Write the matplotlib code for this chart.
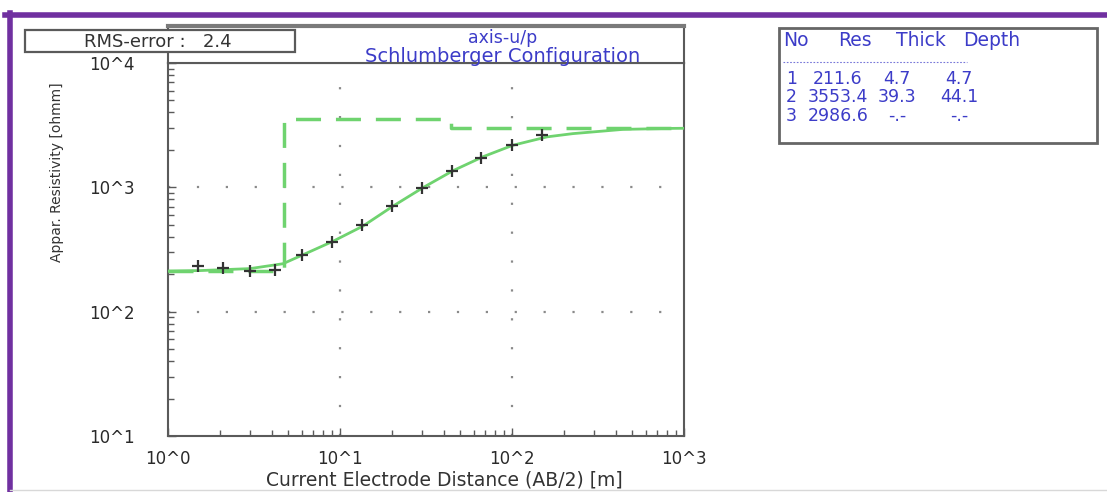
import matplotlib
matplotlib.use("Agg")
import matplotlib.pyplot as plt
from matplotlib.patches import Rectangle
from matplotlib.lines import Line2D
from matplotlib.ticker import FixedLocator, NullFormatter

plt.rcParams['font.family'] = ['DejaVu Sans']

# measured apparent resistivity (AB/2 in m, rho_a in ohmm)
ab2 = [1.5, 2.1, 3.0, 4.2, 6.0, 9.0, 13.5, 20, 30, 45, 66, 100, 150]
rho_meas = [232, 225, 213, 216, 286, 363, 497, 705, 995, 1361, 1730, 2208, 2655]

# fitted curve
fit_x = [1.0, 1.53, 3.0, 4.66, 6.1, 9.1, 13.6, 20.3, 30.4, 45.4, 67.8, 101, 160, 226, 442, 863, 1000]
fit_rho = [212, 214, 222, 243, 287, 368, 488, 705, 995, 1361, 1762, 2178, 2547, 2704, 2925, 2980, 2985]

# layer model
layer_no = ['1', '2', '3']
layer_res = [211.6, 3553.4, 2986.6]
layer_thick = ['4.7', '39.3', '-.-']
layer_depth = ['4.7', '44.1', '-.-']
depths = [4.7, 44.1]

rms_error = 2.4
x_ticks = [1, 10, 100, 1000]
x_ticklabels = ['10^0', '10^1', '10^2', '10^3']
y_ticks = [10, 100, 1000, 10000]
y_ticklabels = ['10^1', '10^2', '10^3', '10^4']

W, H = 1107, 492
green = '#6fd36f'
blue = '#3c3cc8'
gray = '#5a5a5a'


def fx(px):
    return px / W


def fy(py):
    return 1 - py / H


def minor_ticks(lo, hi):
    out = []
    d = lo
    while d < hi:
        out += [m * d for m in range(2, 10)]
        d *= 10
    return out


fig = plt.figure(figsize=(W / 100, H / 100), dpi=100)

ax = fig.add_axes([fx(168), fy(436), fx(684) - fx(168), fy(63) - fy(436)])
ax.set_xscale('log')
ax.set_yscale('log')
ax.set_xlim(1, 1000)
ax.set_ylim(10, 10000)

# model step line
step_x = [1] + depths + [1000]
step_y = layer_res + [layer_res[-1]]
ax.step(step_x, step_y, where='post', color=green, lw=2.5, ls=(0, (7.2, 4.3)), zorder=3)
ax.plot(fit_x, fit_rho, color=green, lw=2, zorder=4)
ax.plot(ab2, rho_meas, ls='none', marker='+', ms=9, mew=1.6, color='#333333', zorder=5)

ax.xaxis.set_major_locator(FixedLocator(x_ticks))
ax.set_xticklabels(x_ticklabels)
ax.yaxis.set_major_locator(FixedLocator(y_ticks))
ax.set_yticklabels(y_ticklabels)
ax.xaxis.set_minor_locator(FixedLocator(minor_ticks(1, 1000)))
ax.yaxis.set_minor_locator(FixedLocator(minor_ticks(10, 10000)))
ax.xaxis.set_minor_formatter(NullFormatter())
ax.yaxis.set_minor_formatter(NullFormatter())
ax.tick_params(which='major', direction='in', length=6, width=1, color=gray,
               labelsize=12, labelcolor='#2a2a2a')
ax.tick_params(which='minor', direction='in', length=4, width=1, color=gray)
ax.tick_params(axis='x', which='major', pad=10)
ax.tick_params(axis='y', which='major', pad=24)

for v in x_ticks[1:-1]:
    ax.axvline(v, color='#8a8a8a', lw=1.6, ls=(0, (1, 12)), zorder=1)
for v in y_ticks[1:-1]:
    ax.axhline(v, color='#8a8a8a', lw=1.6, ls=(0, (1, 12)), zorder=1)

for s in ax.spines.values():
    s.set_color(gray)
    s.set_linewidth(1.5)

fig.text(fx(57), fy(172), 'Appar. Resistivity [ohmm]', rotation=90,
         ha='center', va='center', fontsize=10, color='#333333')
fig.text(fx(444), fy(480), 'Current Electrode Distance (AB/2) [m]',
         ha='center', va='center', fontsize=13.5, color='#333333')

# title strip above the plot
ax_t = fig.add_axes([fx(168), fy(63), fx(684) - fx(168), fy(26) - fy(63)])
ax_t.set_xticks([])
ax_t.set_yticks([])
for s in ax_t.spines.values():
    s.set_color(gray)
    s.set_linewidth(1.5)
ax_t.spines['top'].set_linewidth(3)
ax_t.spines['top'].set_color('#7a7a7a')
fig.text(fx(503), fy(38), 'axis-u/p', ha='center', va='center', fontsize=12.5, color=blue)
fig.text(fx(503), fy(56), 'Schlumberger Configuration', ha='center', va='center',
         fontsize=14, color=blue)

# RMS box
fig.add_artist(Rectangle((fx(25), fy(52)), fx(295) - fx(25), fy(30) - fy(52),
                         transform=fig.transFigure, facecolor='white',
                         edgecolor=gray, lw=1.6, zorder=10))
fig.text(fx(158), fy(42), 'RMS-error :   %.1f' % rms_error, ha='center', va='center',
         fontsize=13, color='#333333', zorder=11)

# layer table
fig.add_artist(Rectangle((fx(779), fy(143)), fx(1097) - fx(779), fy(28) - fy(143),
                         transform=fig.transFigure, facecolor='white',
                         edgecolor='#666666', lw=2, zorder=10))
hdr_x = [783, 838, 896, 963]
for txt, x in zip(['No', 'Res', 'Thick', 'Depth'], hdr_x):
    fig.text(fx(x), fy(41), txt, ha='left', va='center', fontsize=13.5, color=blue, zorder=11)
fig.add_artist(Line2D([fx(783), fx(967)], [fy(62), fy(62)], transform=fig.transFigure,
                      color=blue, lw=0.8, ls=(0, (1.5, 1.5)), alpha=0.7, zorder=11))
row_y = [79, 97, 116]
for i, yy in enumerate(row_y):
    fig.text(fx(786), fy(yy), layer_no[i], ha='left', va='center', fontsize=12.5, color=blue, zorder=11)
    fig.text(fx(838), fy(yy), '%.1f' % layer_res[i], ha='center', va='center', fontsize=12.5,
             color=blue, zorder=11)
    fig.text(fx(897), fy(yy), layer_thick[i], ha='center', va='center', fontsize=12.5,
             color=blue, zorder=11)
    fig.text(fx(959), fy(yy), layer_depth[i], ha='center', va='center', fontsize=12.5,
             color=blue, zorder=11)

# purple frame and bottom rule
fig.add_artist(Line2D([fx(5), fx(1107)], [fy(14.5), fy(14.5)], transform=fig.transFigure,
                      color='#7030a0', lw=4))
fig.add_artist(Line2D([fx(9.5), fx(9.5)], [fy(12.5), fy(492)], transform=fig.transFigure,
                      color='#7030a0', lw=4))
fig.add_artist(Line2D([fx(10), fx(1107)], [fy(490), fy(490)], transform=fig.transFigure,
                      color='#d8d8d8', lw=1))

fig.savefig('out.png', dpi=100, facecolor='white')
